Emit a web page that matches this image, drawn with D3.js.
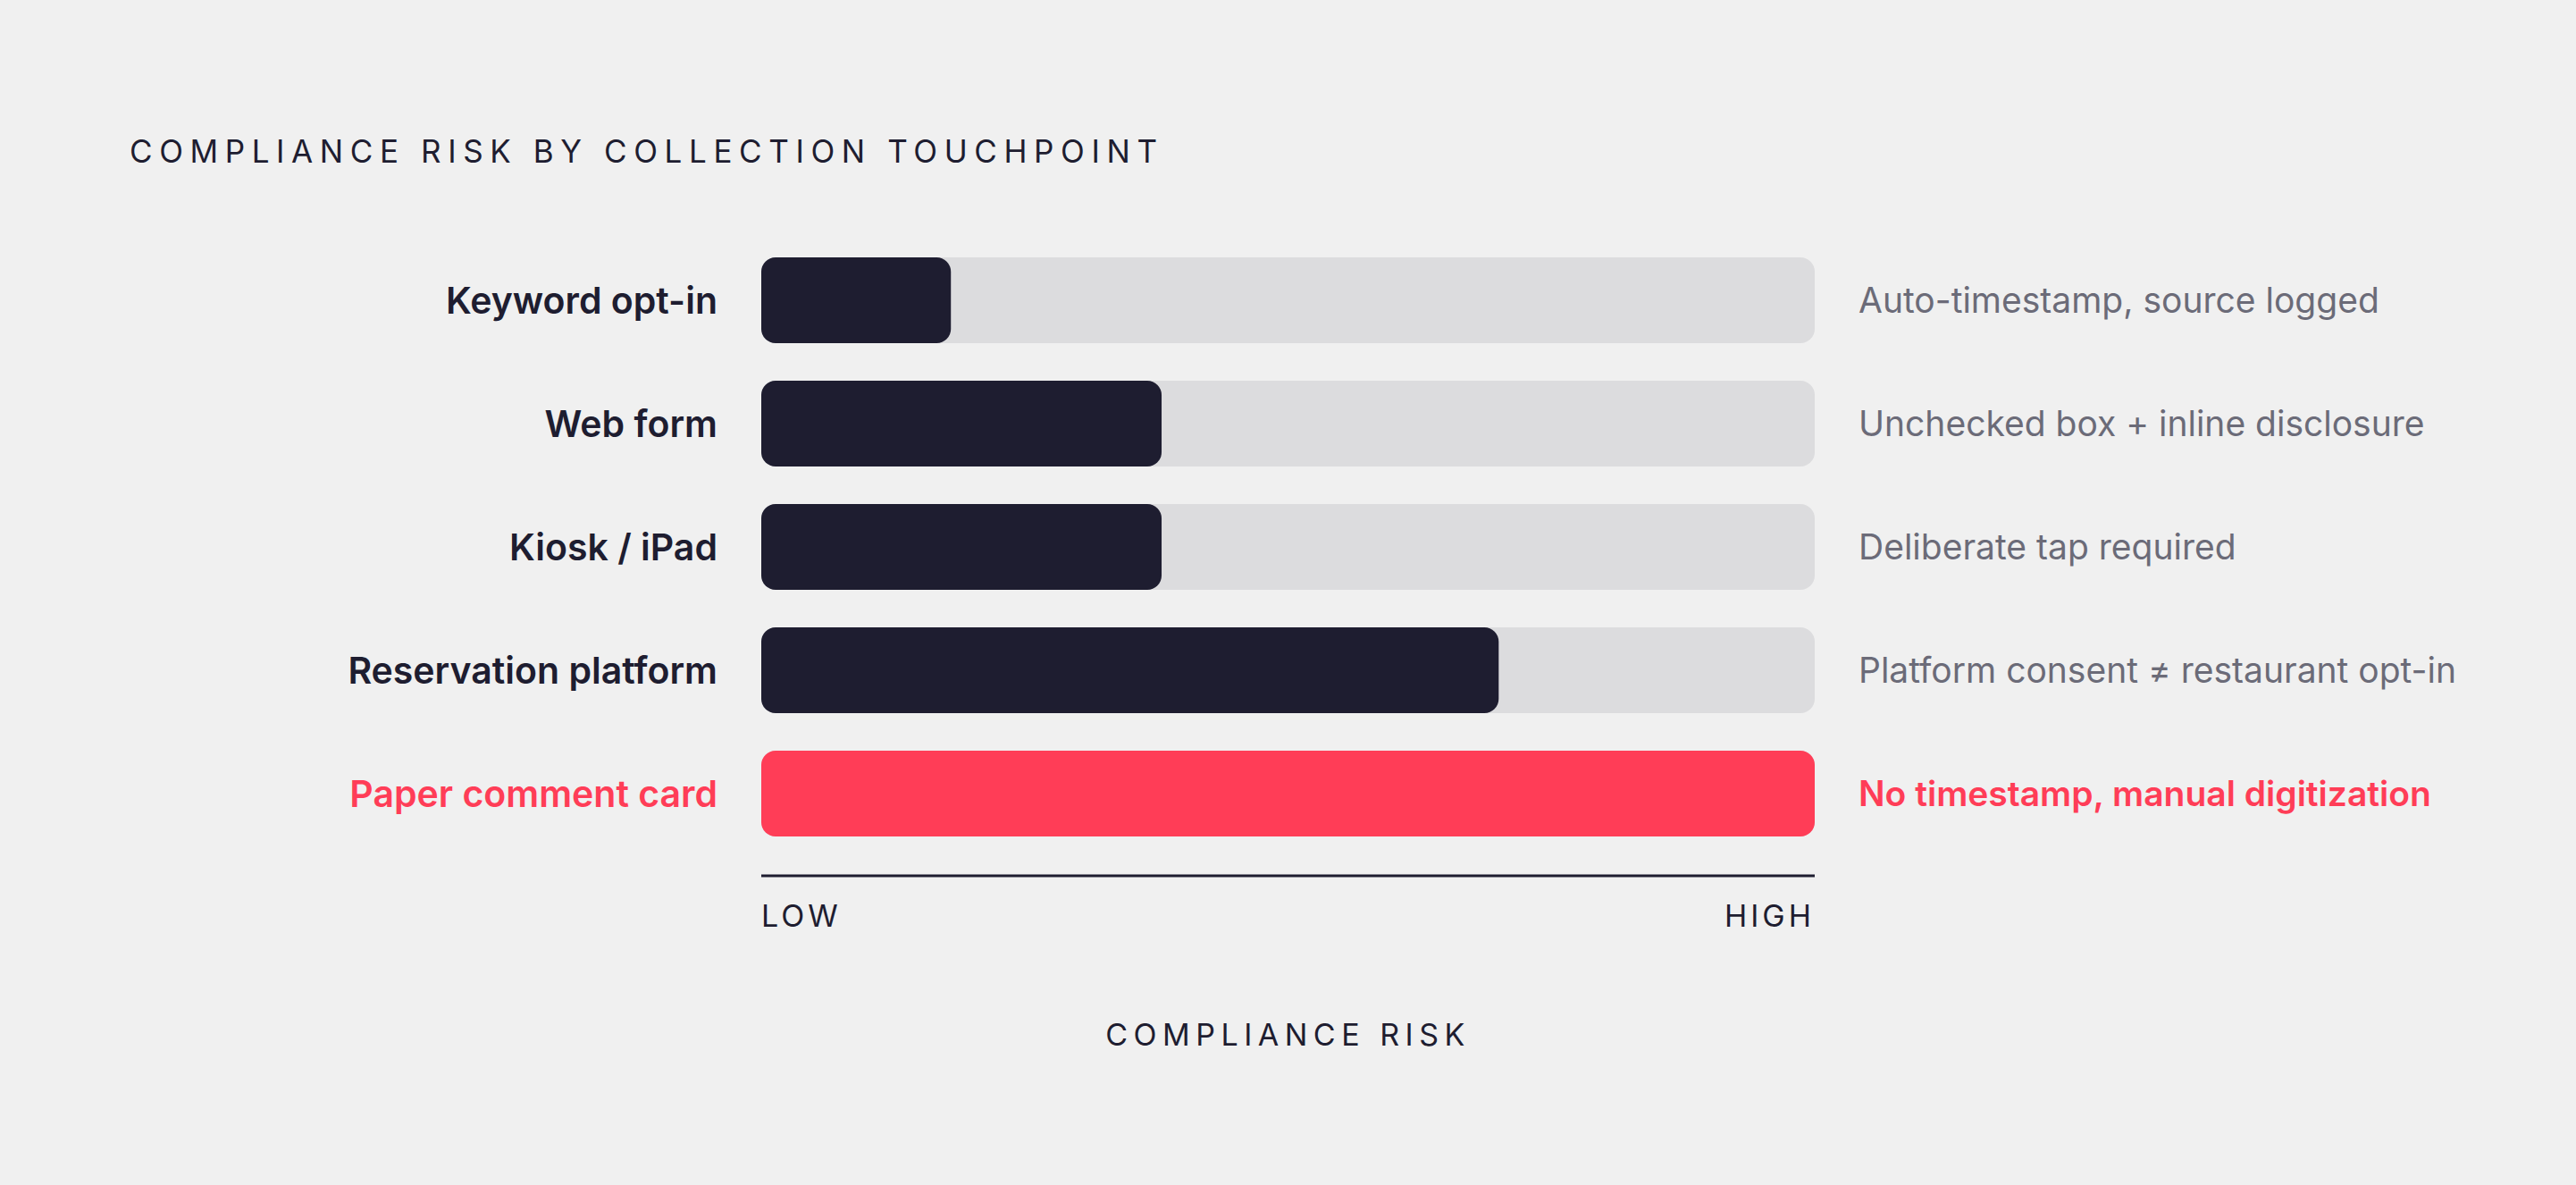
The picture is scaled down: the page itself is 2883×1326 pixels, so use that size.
<!DOCTYPE html>
<html><head><meta charset="utf-8">
<script src="https://cdn.jsdelivr.net/npm/d3@7"></script>
<style>
body{margin:0;background:#f0f0f0;}
svg{display:block;font-family:Inter,sans-serif;}
</style></head>
<body><div id="chart"></div>
<script>
const categories = ['Keyword opt-in','Web form','Kiosk / iPad','Reservation platform','Paper comment card'];
const risk = [0.18, 0.38, 0.38, 0.70, 1.0];
const notes = ['Auto-timestamp, source logged','Unchecked box + inline disclosure','Deliberate tap required','Platform consent \u2260 restaurant opt-in','No timestamp, manual digitization'];
const highlight = [false,false,false,false,true];
const axisLabels = ['LOW','HIGH'];

const width = 2883, height = 1326;
const dark = '#1e1d30', red = '#ff3d57', track = '#dcdcde', gray = '#6b6b78';

let svg = d3.select('#chart').append('svg')
    .attr('width', width).attr('height', height);

let x = d3.scaleLinear().domain([0, 1]).range([852, 2031]);
let y = d3.scaleBand().domain(categories).range([267, 957]).paddingInner(0.3043).paddingOuter(0.152);

svg.append('text').attr('x', 145).attr('y', 182)
    .attr('font-size', 35).attr('letter-spacing', 7.6).attr('fill', dark)
    .text('COMPLIANCE RISK BY COLLECTION TOUCHPOINT');

let rows = svg.selectAll('g.row').data(categories).enter().append('g')
    .attr('transform', d => `translate(0,${y(d)})`);

rows.append('rect').attr('x', x(0)).attr('width', x(1) - x(0))
    .attr('height', y.bandwidth()).attr('rx', 16).attr('fill', track);
rows.append('rect').attr('x', x(0)).attr('width', (d, i) => x(risk[i]) - x(0))
    .attr('height', y.bandwidth()).attr('rx', 16)
    .attr('fill', (d, i) => highlight[i] ? red : dark);

rows.append('text').attr('x', 803).attr('y', y.bandwidth() / 2)
    .attr('dy', '0.36em').attr('text-anchor', 'end')
    .attr('font-size', 41).attr('font-weight', 600)
    .attr('fill', (d, i) => highlight[i] ? red : dark).text(d => d);

rows.append('text').attr('x', 2080).attr('y', y.bandwidth() / 2)
    .attr('dy', '0.36em').attr('font-size', 39)
    .attr('font-weight', (d, i) => highlight[i] ? 600 : 400)
    .attr('fill', (d, i) => highlight[i] ? red : gray).text((d, i) => notes[i]);

svg.append('line').attr('x1', x(0)).attr('x2', x(1)).attr('y1', 980).attr('y2', 980)
    .attr('stroke', dark).attr('stroke-width', 3);

svg.selectAll('text.ax').data(axisLabels).enter().append('text')
    .attr('x', (d, i) => x(i)).attr('y', 1037)
    .attr('text-anchor', (d, i) => i ? 'end' : 'start')
    .attr('font-size', 34).attr('letter-spacing', 4).attr('fill', dark).text(d => d);

svg.append('text').attr('x', (x(0) + x(1)) / 2).attr('y', 1170)
    .attr('text-anchor', 'middle').attr('font-size', 34).attr('letter-spacing', 6.5)
    .attr('fill', dark).text('COMPLIANCE RISK');
</script></body></html>
